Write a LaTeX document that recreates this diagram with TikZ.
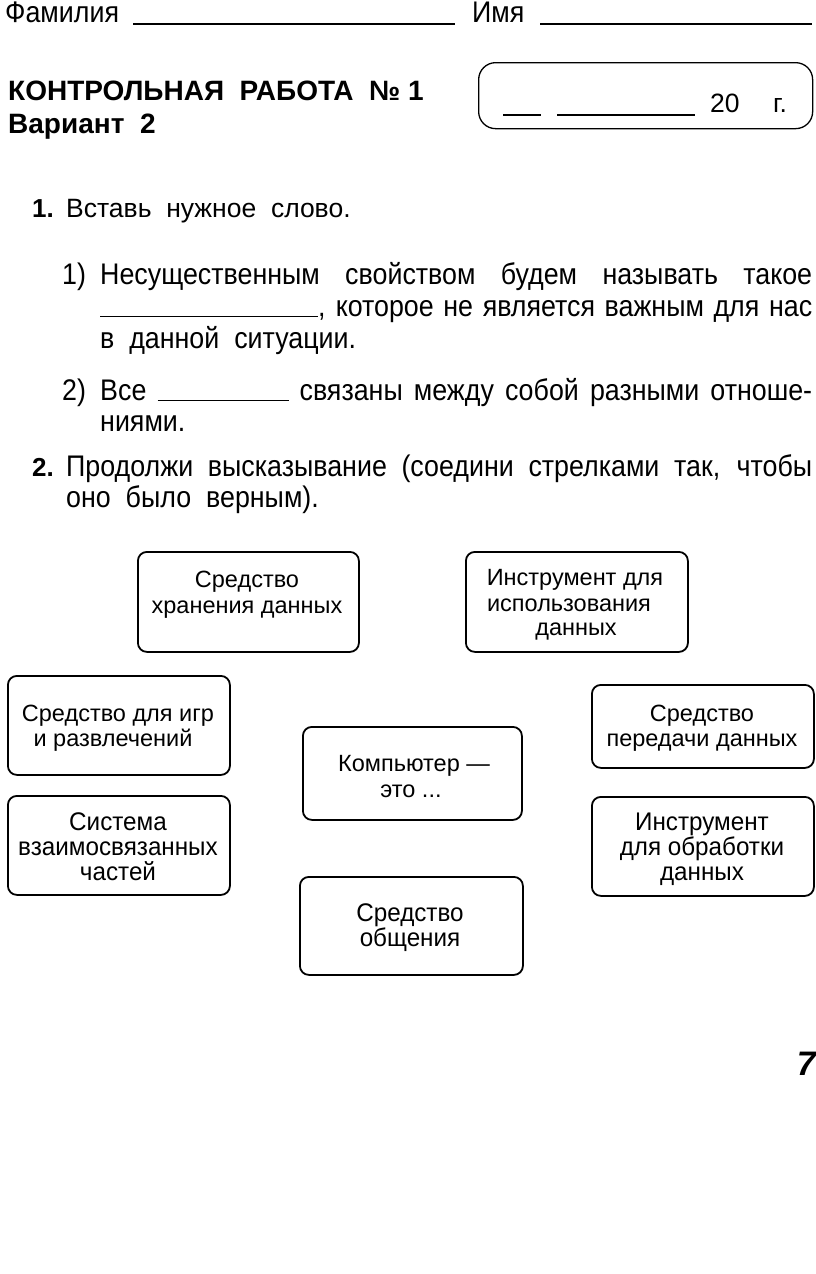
\documentclass[tikz,border=0pt]{standalone}
\usepackage{fontspec}
\setmainfont{Liberation Sans}
\newfontfamily\narrowfont[FakeStretch=0.9]{Liberation Sans}
\newfontfamily\cardnarrow[FakeStretch=0.95]{Liberation Sans}
\begin{document}
\begin{tikzpicture}[x=1pt,y=-1pt,
  lbl/.style={anchor=base west, inner sep=0pt},
  ctr/.style={anchor=base, inner sep=0pt},
  rgt/.style={anchor=base east, inner sep=0pt},
  card/.style={draw, line width=1.8pt, rounded corners=9pt, anchor=north west, inner sep=0pt},
  datecard/.style={draw, line width=1.3pt, rounded corners=17pt, anchor=north west, inner sep=0pt},
  fillrule/.style={line width=1.2pt},
  body/.style={font=\fontsize{26.5}{30}\selectfont},
  nbody/.style={font=\narrowfont\fontsize{29.8}{32}\selectfont},
  bbody/.style={font=\bfseries\fontsize{26}{30}\selectfont},
  title/.style={font=\bfseries\fontsize{28}{32}\selectfont},
  cardtxt/.style={font=\fontsize{23.5}{25}\selectfont},
  ncardtxt/.style={font=\cardnarrow\fontsize{25.5}{25}\selectfont}
]
\useasboundingbox (0,0) rectangle (816,1274);
\fill[white] (0,0) rectangle (816,1274);

% header
\node[lbl, nbody] (fam) at (5,22) {Фамилия};
\coordinate (famA) at (133,24);
\coordinate (famB) at (455,24);
\draw[fillrule] (famA) -- (famB);
\node[lbl, nbody] (imya) at (472,22) {Имя};
\coordinate (imA) at (540,24);
\coordinate (imB) at (812,24);
\draw[fillrule] (imA) -- (imB);

\node[lbl, title] (t1) at (8,100) {КОНТРОЛЬНАЯ\ \ РАБОТА\ \ №~1};
\node[lbl, title] (t2) at (8,133) {Вариант\ \ 2};

% date box
\node[datecard, minimum width=334pt, minimum height=66pt] (date) at (478,62) {};
\coordinate (d1A) at (503,115);
\coordinate (d1B) at (541,115);
\coordinate (d2A) at (557,115);
\coordinate (d2B) at (695,115);
\draw[fillrule] (d1A) -- (d1B);
\draw[fillrule] (d2A) -- (d2B);
\node[lbl, body] (year) at (710,112) {20};
\node[lbl, body] (god) at (773,112) {г.};

% task 1
\node[lbl, bbody] (n1) at (32,217) {1.};
\node[lbl, body] (q1) at (66,217) {Вставь\ \ нужное\ \ слово.};

\node[lbl, nbody] (i1) at (62,284) {1)};
\node[lbl, nbody] (i1a) at (100,284) {\makebox[712pt][s]{Несущественным свойством будем называть такое}};
\node[lbl, nbody] (i1b) at (100,316) {\makebox[712pt][s]{\rule[-1pt]{218pt}{1.1pt}, которое не является важным для нас}};
\node[lbl, nbody] (i1c) at (100,348) {в\ \ данной\ \ ситуации.};

\node[lbl, nbody] (i2) at (62,400) {2)};
\node[lbl, nbody] (i2a) at (100,400) {\makebox[712pt][s]{Все \rule[-1pt]{131pt}{1.1pt} связаны между собой разными отноше-}};
\node[lbl, nbody] (i2b) at (100,431) {ниями.};

% task 2
\node[lbl, bbody] (n2) at (32,476) {2.};
\node[lbl, nbody] (q2a) at (66,476) {\makebox[746pt][s]{Продолжи высказывание (соедини стрелками так, чтобы}};
\node[lbl, nbody] (q2b) at (66,507) {оно\ \ было\ \ верным).};

% cards
\node[card, minimum width=221pt, minimum height=100pt] (b1) at (137,551) {};
\node[ctr, cardtxt] (b1a) at (247,587) {Средство};
\node[ctr, cardtxt] (b1b) at (247,613) {хранения данных};

\node[card, minimum width=222pt, minimum height=100pt] (b2) at (465,551) {};
\node[ctr, cardtxt] (b2a) at (575,585) {Инструмент для};
\node[ctr, cardtxt] (b2b) at (569,611) {использования};
\node[ctr, cardtxt] (b2c) at (576,635) {данных};

\node[card, minimum width=222pt, minimum height=99pt] (b3) at (7,675) {};
\node[ctr, cardtxt] (b3a) at (118,721) {Средство для игр};
\node[ctr, cardtxt] (b3b) at (113,746) {и развлечений};

\node[card, minimum width=222pt, minimum height=83pt] (b4) at (591,684) {};
\node[ctr, cardtxt] (b4a) at (702,721) {Средство};
\node[ctr, cardtxt] (b4b) at (702,746) {передачи данных};

\node[card, minimum width=219pt, minimum height=93pt] (b5) at (302,726) {};
\node[ctr, cardtxt] (b5a) at (414,771) {Компьютер —};
\node[ctr, cardtxt] (b5b) at (411,797) {это ...};

\node[card, minimum width=222pt, minimum height=99pt] (b6) at (7,795) {};
\node[ctr, ncardtxt] (b6a) at (118,830) {Система};
\node[ctr, ncardtxt] (b6b) at (118,855) {взаимосвязанных};
\node[ctr, ncardtxt] (b6c) at (118,880) {частей};

\node[card, minimum width=222pt, minimum height=99pt] (b7) at (591,796) {};
\node[ctr, ncardtxt] (b7a) at (702,830) {Инструмент};
\node[ctr, ncardtxt] (b7b) at (702,855) {для обработки};
\node[ctr, ncardtxt] (b7c) at (702,880) {данных};

\node[card, minimum width=223pt, minimum height=98pt] (b8) at (299,876) {};
\node[ctr, ncardtxt] (b8a) at (410,921) {Средство};
\node[ctr, ncardtxt] (b8b) at (410,946) {общения};

% page number
\node[rgt, font=\bfseries\itshape\fontsize{34}{36}\selectfont] (page) at (816,1075) {7};
\end{tikzpicture}
\end{document}
